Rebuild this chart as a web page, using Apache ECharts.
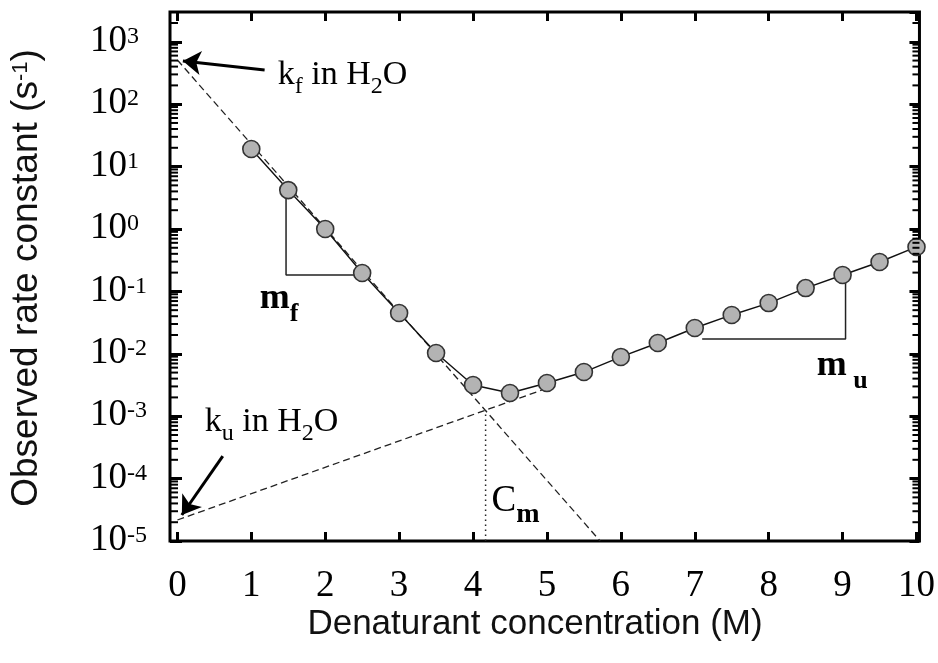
<!DOCTYPE html>
<html>
<head>
<meta charset="utf-8">
<script src="https://cdn.jsdelivr.net/npm/echarts@6/dist/echarts.min.js"></script>
<style>
  html, body { margin: 0; padding: 0; background: #fff; }
  #chart { width: 938px; height: 663px; }
</style>
</head>
<body>
<div id="chart"></div>
<script>
// Chevron plot: observed relaxation rate vs denaturant concentration
const concentration = [1, 1.5, 2, 2.5, 3, 3.5, 4, 4.5, 5, 5.5, 6, 6.5, 7, 7.5, 8, 8.5, 9, 9.5, 10];
const rateObserved = [19.1, 4.2, 1.0, 0.197, 0.045, 0.0103, 0.00316, 0.00235, 0.0034, 0.0051,
                      0.0089, 0.0149, 0.0259, 0.0419, 0.065, 0.113, 0.183, 0.296, 0.515];

// Extrapolated folding / unfolding limbs (straight in log space)
const foldingLimb = [[0, 510], [5.72, 1e-5]];
const unfoldingLimb = [[0, 2.17e-5], [5.0, 0.0028]];
const midpointLine = [[4.17, 1e-5], [4.17, 0.00124]];

// Slope triangles for m_f and m_u
const slopeFolding = [[1.47, 4.2], [1.47, 0.183], [2.4, 0.183]];
const slopeUnfolding = [[7.1, 0.0173], [9.04, 0.0173], [9.04, 0.183]];

// Axis ticks
const xTickValues = [0, 1, 2, 3, 4, 5, 6, 7, 8, 9, 10];
const decadeExponents = [-5, -4, -3, -2, -1, 0, 1, 2, 3];
const minorMultipliers = [2, 3, 4, 5, 6, 7, 8, 9];

const X_MIN = -0.1, X_MAX = 10.04;
const Y_MIN = 1e-5, Y_MAX = 3000;
const SERIF = 'Liberation Serif';
const SANS = 'Liberation Sans';
const INK = '#000';

const minorTickValues = [];
decadeExponents.forEach(function (e) {
  minorMultipliers.forEach(function (m) {
    const v = m * Math.pow(10, e);
    if (v < Y_MAX * 0.9) minorTickValues.push(v);
  });
});

const observedPoints = concentration.map(function (c, i) { return [c, rateObserved[i]]; });

function powerLabel(v) {
  const e = Math.round(Math.log10(v));
  if (Math.abs(Math.pow(10, e) - v) / v > 1e-6) return '';
  return '{b|10}{s|' + e + '}';
}

const yLabelRich = {
  b: { fontFamily: SERIF, fontSize: 37, lineHeight: 38, verticalAlign: 'top', color: INK },
  s: { fontFamily: SERIF, fontSize: 24, lineHeight: 24, verticalAlign: 'top', padding: [2, 0, 0, 0], color: INK }
};

const annotationRich = {
  k: { fontFamily: SERIF, fontSize: 34, lineHeight: 38, verticalAlign: 'top', color: INK },
  ks: { fontFamily: SERIF, fontSize: 24, lineHeight: 24, verticalAlign: 'top', padding: [17, 0, 0, 0], color: INK },
  m: { fontFamily: SERIF, fontWeight: 'bold', fontSize: 36, lineHeight: 40, verticalAlign: 'top', color: INK },
  ms: { fontFamily: SERIF, fontWeight: 'bold', fontSize: 26, lineHeight: 26, verticalAlign: 'top', padding: [20, 0, 0, 0], color: INK },
  c: { fontFamily: SERIF, fontSize: 37, lineHeight: 40, verticalAlign: 'top', color: INK },
  cs: { fontFamily: SERIF, fontWeight: 'bold', fontSize: 28, lineHeight: 28, verticalAlign: 'top', padding: [18, 0, 0, 0], color: INK }
};

const annotations = [
  { value: [1.357, 275], text: '{k|k}{ks|f}{k| in H}{ks|2}{k|O}' },
  { value: [0.371, 7.55e-4], text: '{k|k}{ks|u}{k| in H}{ks|2}{k|O}' },
  { value: [1.114, 0.070], text: '{m|m}{ms|f}' },
  { value: [8.65, 0.0059], text: '{m|m}{ms| u}' },
  { value: [4.25, 4.07e-5], text: '{c|C}{cs|m}' }
];

const arrows = [
  [{ coord: [1.18, 353] }, { coord: [0.074, 492] }],
  [{ coord: [0.614, 2.30e-4] }, { coord: [0.06, 2.61e-5] }]
];

const dashedStyle = { color: '#222', width: 1.3, type: [7, 4] };

const chart = echarts.init(document.getElementById('chart'), null, { renderer: 'canvas' });

const yAxisBase = {
  type: 'log',
  logBase: 10,
  min: Y_MIN,
  max: Y_MAX,
  interval: 1,
  axisLine: { show: false, onZero: false },
  splitLine: { show: false },
  minorTick: { show: false },
  axisTick: { show: true, inside: true, length: 12, lineStyle: { color: INK, width: 3 } }
};

chart.setOption({
  animation: false,
  backgroundColor: '#fff',
  grid: {
    left: 170, right: 17, top: 12, bottom: 122,
    show: true, borderColor: INK, borderWidth: 3, backgroundColor: 'transparent'
  },
  xAxis: [
    {
      type: 'value', position: 'bottom', min: X_MIN, max: X_MAX,
      axisLine: { show: false, onZero: false },
      splitLine: { show: false },
      axisTick: { show: true, inside: true, length: 9, customValues: xTickValues, lineStyle: { color: INK, width: 3 } },
      axisLabel: {
        show: true, customValues: xTickValues, margin: 26,
        fontFamily: SERIF, fontSize: 37, lineHeight: 38, color: INK
      }
    },
    {
      type: 'value', position: 'top', min: X_MIN, max: X_MAX,
      axisLine: { show: false, onZero: false },
      splitLine: { show: false },
      axisTick: { show: true, inside: true, length: 9, customValues: xTickValues, lineStyle: { color: INK, width: 3 } },
      axisLabel: { show: false }
    }
  ],
  yAxis: [
    Object.assign({}, yAxisBase, {
      position: 'left',
      axisLabel: {
        show: true, align: 'left', margin: 80,
        formatter: powerLabel, rich: yLabelRich,
        showMaxLabel: false
      }
    }),
    Object.assign({}, yAxisBase, {
      position: 'right',
      axisTick: { show: true, inside: true, length: 10, lineStyle: { color: INK, width: 3 } },
      axisLabel: { show: false }
    })
  ],
  graphic: [
    {
      type: 'text', x: 28, y: 278, rotation: Math.PI / 2, silent: true,
      style: {
        text: '{t|Observed rate constant (s}{s|-1}{t|)}',
        align: 'center', verticalAlign: 'middle',
        rich: {
          t: { fontFamily: SANS, fontSize: 37, lineHeight: 40, verticalAlign: 'top', fill: '#111' },
          s: { fontFamily: SANS, fontSize: 22, lineHeight: 22, verticalAlign: 'top', padding: [2, 0, 0, 0], fill: '#111' }
        }
      }
    },
    {
      type: 'text', x: 535, y: 624, silent: true,
      style: {
        text: 'Denaturant concentration (M)',
        fontFamily: SANS, fontSize: 35, fill: '#111',
        align: 'center', verticalAlign: 'middle'
      }
    }
  ],
  series: [
    {
      name: 'Folding limb', type: 'line', data: foldingLimb, symbol: 'none',
      lineStyle: dashedStyle, silent: true, z: 2
    },
    {
      name: 'Unfolding limb', type: 'line', data: unfoldingLimb, symbol: 'none',
      lineStyle: dashedStyle, silent: true, z: 2
    },
    {
      name: 'Midpoint', type: 'line', data: midpointLine, symbol: 'none',
      lineStyle: { color: '#222', width: 1.5, type: [1.5, 3.5] }, silent: true, z: 2
    },
    {
      name: 'm_f', type: 'line', data: slopeFolding, symbol: 'none',
      lineStyle: { color: '#222', width: 1.5 }, silent: true, z: 3
    },
    {
      name: 'm_u', type: 'line', data: slopeUnfolding, symbol: 'none',
      lineStyle: { color: '#222', width: 1.5 }, silent: true, z: 3
    },
    {
      name: 'Observed', type: 'line', data: observedPoints,
      symbol: 'circle', symbolSize: 17, clip: false,
      itemStyle: { color: '#b3b3b3', borderColor: '#333', borderWidth: 1.6 },
      lineStyle: { color: '#111', width: 1.4 },
      z: 5
    },
    {
      name: 'Minor ticks', type: 'custom', silent: true, clip: false, z: 6,
      data: minorTickValues.map(function (v) { return [X_MIN, v]; }),
      renderItem: function (params, api) {
        const v = api.value(1);
        const a = api.coord([X_MIN, v]);
        const b = api.coord([X_MAX, v]);
        return {
          type: 'group',
          children: [
            { type: 'line', shape: { x1: a[0], y1: a[1], x2: a[0] + 8, y2: a[1] }, style: { stroke: INK, lineWidth: 2 } },
            { type: 'line', shape: { x1: b[0] - 7, y1: b[1], x2: b[0], y2: b[1] }, style: { stroke: INK, lineWidth: 2 } }
          ]
        };
      }
    },
    {
      name: 'Annotations', type: 'scatter', symbolSize: 0, silent: true, clip: false, z: 7,
      itemStyle: { color: INK, opacity: 1 },
      data: annotations.map(function (a) {
        return { value: a.value, label: { formatter: a.text } };
      }),
      label: { show: true, position: 'right', distance: 0, color: INK, opacity: 1, rich: annotationRich },
      markLine: {
        silent: true, symbol: ['none', 'arrow'], symbolSize: 18,
        label: { show: false },
        lineStyle: { color: INK, width: 3, type: 'solid', opacity: 1 },
        itemStyle: { color: INK },
        emphasis: { disabled: true },
        data: arrows
      }
    }
  ]
});
</script>
</body>
</html>
